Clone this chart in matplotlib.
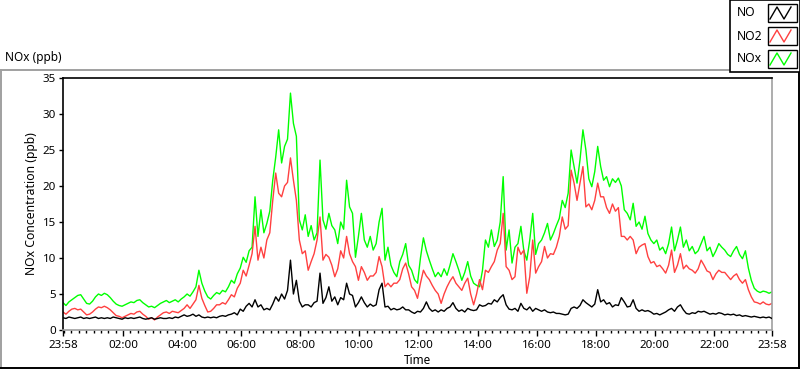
import numpy as np
import matplotlib
matplotlib.use("Agg")
import matplotlib.pyplot as plt
from matplotlib.lines import Line2D
from matplotlib.patches import Rectangle

plt.rcParams['font.family'] = ['Noto Sans', 'DejaVu Sans']

# sample step (minutes) from 23:58 to 23:58 next day
step_min = 6

no_vals = [
    1.7, 1.6, 1.8, 1.7, 1.6, 1.7, 1.8, 1.6, 1.7, 1.6,
    1.7, 1.8, 1.6, 1.7, 1.6, 1.7, 1.6, 1.8, 1.7, 1.6,
    1.5, 1.7, 1.6, 1.7, 1.6, 1.7, 1.8, 1.6, 1.5, 1.6,
    1.7, 1.5, 1.6, 1.7, 1.6, 1.6, 1.7, 1.6, 1.8, 1.7,
    1.9, 2.1, 1.9, 2.0, 2.2, 1.9, 2.1, 1.8, 1.7, 1.8,
    1.7, 1.8, 1.7, 1.9, 2.0, 1.9, 2.1, 2.2, 2.4, 2.1,
    2.9, 2.6, 3.3, 3.7, 3.2, 4.2, 3.2, 3.5, 2.8, 3.0,
    2.8, 3.6, 4.6, 4.0, 5.0, 4.3, 5.5, 9.7, 5.0, 6.9,
    4.0, 3.2, 3.5, 3.5, 3.2, 3.8, 4.0, 7.9, 3.7, 4.5,
    6.0, 4.0, 4.6, 3.5, 4.5, 4.2, 6.5, 5.0, 4.8, 3.2,
    3.8, 4.6, 3.8, 3.2, 3.6, 3.3, 3.5, 5.6, 6.5, 3.2,
    3.3, 2.8, 3.0, 2.8, 2.9, 3.2, 2.8, 2.8, 2.5, 2.3,
    2.6, 2.5, 3.0, 3.9, 3.0, 2.6, 2.8, 2.5, 2.8, 2.6,
    3.0, 3.2, 3.8, 3.0, 2.6, 2.8, 2.5, 3.0, 2.8, 2.7,
    2.8, 3.5, 3.3, 3.4, 3.7, 3.6, 4.2, 3.9, 4.5, 4.9,
    3.5, 2.9, 2.8, 3.0, 2.6, 3.7, 3.0, 2.8, 3.2, 2.6,
    3.0, 2.8, 2.6, 2.8, 2.5, 2.4, 2.5, 2.3, 2.3, 2.2,
    2.1, 2.2, 3.0, 3.2, 3.0, 3.4, 4.2, 3.8, 3.5, 3.2,
    3.6, 5.6, 3.9, 4.2, 3.6, 3.8, 3.2, 3.5, 3.4, 4.5,
    3.9, 3.2, 3.3, 4.2, 3.0, 2.6, 2.8, 2.6, 2.7, 2.5,
    2.2, 2.3, 2.1, 2.3, 2.5, 2.8, 3.0, 2.6, 3.2, 3.5,
    2.8, 2.3, 2.2, 2.4, 2.3, 2.6, 2.5, 2.6, 2.4, 2.2,
    2.3, 2.2, 2.4, 2.3, 2.1, 2.2, 2.1, 2.2, 2.0, 2.1,
    1.9, 2.0, 1.9, 1.8, 1.9, 1.8, 1.7, 1.8, 1.7, 1.8,
    1.6,
]

no2_vals = [
    2.5, 2.2, 2.6, 2.9, 3.0, 2.8, 2.9, 2.5, 2.1, 2.2,
    2.5, 2.9, 3.2, 3.1, 3.3, 3.1, 2.8, 2.4, 2.0, 1.9,
    1.7, 1.9, 2.1, 2.3, 2.2, 2.5, 2.6, 2.2, 1.9, 1.5,
    1.7, 1.4, 1.8, 2.1, 2.4, 2.5, 2.3, 2.6, 2.5, 2.4,
    2.7, 3.0, 3.5, 3.0, 3.6, 4.2, 6.2, 4.4, 3.4, 2.5,
    2.6, 3.0, 3.5, 3.5, 3.8, 3.6, 4.2, 4.9, 4.6, 5.8,
    6.5, 8.3, 7.5, 9.0, 10.6, 14.4, 9.7, 11.5, 10.0, 12.5,
    13.5, 18.0, 21.8, 19.0, 18.5, 20.0, 20.5, 23.9, 20.8, 18.0,
    12.5, 10.6, 11.0, 8.3, 9.5, 10.6, 12.5, 15.7, 9.7, 10.5,
    10.1, 9.0, 7.4, 8.5, 11.0, 10.0, 13.0, 10.6, 9.5, 8.8,
    6.9, 8.8, 8.0, 6.9, 7.5, 7.5, 8.0, 10.2, 8.8, 6.0,
    6.5, 6.0, 6.5, 6.5, 7.0, 8.5, 9.3, 7.8, 6.0, 5.5,
    4.4, 6.5, 8.3, 7.5, 7.0, 6.2, 5.5, 5.0, 3.7, 5.0,
    6.0, 6.8, 7.4, 6.5, 6.0, 5.5, 6.5, 7.2, 5.0, 3.5,
    5.0, 7.0, 5.6, 8.3, 8.0, 8.8, 9.5, 11.1, 12.0, 16.2,
    8.8, 8.3, 7.0, 7.4, 11.5, 10.5, 11.1, 5.1, 7.4, 12.5,
    7.9, 8.8, 9.5, 11.6, 10.0, 10.6, 10.5, 11.5, 13.0, 15.7,
    14.0, 14.5, 22.2, 20.4, 18.0, 20.4, 22.7, 17.1, 17.5, 16.7,
    18.0, 20.4, 18.5, 18.5, 17.0, 16.2, 17.5, 16.5, 17.0, 13.0,
    13.0, 12.5, 13.0, 12.5, 10.6, 11.5, 11.8, 12.0, 10.2, 9.3,
    9.5, 8.8, 9.0, 8.5, 7.9, 9.0, 11.1, 8.0, 9.0, 10.6,
    8.5, 9.0, 8.5, 8.3, 7.9, 8.5, 9.7, 9.0, 8.2, 8.0,
    7.0, 7.8, 8.3, 8.0, 8.0, 7.5, 7.0, 7.5, 7.8, 7.0,
    6.5, 7.0, 5.6, 4.6, 3.9, 3.8, 3.6, 3.9, 3.6, 3.5,
    3.7,
]

nox_vals = [
    3.8, 3.4, 3.9, 4.2, 4.5, 4.8, 4.9, 4.3, 3.7, 3.6,
    4.0, 4.6, 5.0, 4.8, 5.1, 4.9, 4.5, 4.0, 3.6, 3.4,
    3.3, 3.5, 3.7, 3.9, 3.8, 4.1, 4.2, 3.8, 3.5, 3.2,
    3.3, 3.1, 3.4, 3.7, 3.9, 4.1, 3.8, 4.0, 4.2, 3.9,
    4.3, 4.6, 5.0, 4.7, 5.3, 6.0, 8.3, 6.5, 5.4, 4.6,
    4.3, 4.8, 5.2, 5.0, 5.5, 5.3, 6.0, 6.9, 6.5, 7.8,
    8.6, 10.1, 9.4, 11.0, 11.5, 18.5, 13.0, 16.7, 13.5, 14.8,
    16.5, 20.8, 24.0, 27.8, 23.2, 25.5, 26.5, 32.9, 28.7, 26.9,
    15.3, 13.9, 16.0, 13.0, 14.5, 12.5, 13.5, 23.6, 15.3, 14.0,
    16.2, 14.5, 13.9, 12.0, 15.0, 14.0, 20.8, 17.1, 16.2, 10.1,
    13.0, 16.2, 12.5, 11.5, 13.0, 11.1, 12.0, 15.0, 16.9, 9.7,
    11.5, 9.0, 8.0, 7.4, 9.5, 10.5, 12.0, 9.0, 8.3, 7.0,
    6.5, 10.0, 12.8, 11.0, 9.7, 8.5, 7.4, 8.0, 7.4, 8.5,
    7.6, 9.0, 10.6, 9.5, 8.3, 6.9, 8.0, 9.5, 7.5, 6.5,
    6.2, 6.0, 8.3, 12.5, 11.5, 13.9, 11.6, 12.5, 15.0, 21.3,
    11.1, 13.9, 9.3, 11.5, 12.0, 14.4, 11.0, 9.7, 12.5, 16.2,
    10.5, 12.0, 12.5, 13.5, 14.8, 12.5, 13.4, 14.5, 15.5, 18.0,
    17.0, 19.0, 25.0, 22.7, 20.4, 23.6, 27.8, 25.0, 21.0, 19.9,
    22.0, 25.5, 22.7, 20.8, 21.3, 19.9, 21.0, 20.5, 21.1, 20.0,
    16.7, 16.2, 15.3, 17.6, 14.4, 15.0, 14.0, 15.8, 13.4, 12.5,
    12.0, 12.5, 11.1, 11.5, 10.6, 12.0, 14.3, 11.0, 12.5, 14.3,
    11.5, 12.5, 11.0, 11.6, 10.6, 11.0, 12.0, 13.0, 11.0, 11.5,
    10.2, 11.0, 12.0, 11.5, 11.1, 10.5, 10.2, 11.0, 11.6, 10.5,
    9.9, 11.0, 8.6, 6.9, 5.8, 5.4, 5.2, 5.4, 5.3, 5.1,
    5.3,
]

series_names = ["NO", "NO2", "NOx"]
series_colors = ["#000000", "#ff4040", "#00ff00"]

x_tick_labels = ["23:58", "02:00", "04:00", "06:00", "08:00", "10:00", "12:00",
                 "14:00", "16:00", "18:00", "20:00", "22:00", "23:58"]
y_ticks = [0, 5, 10, 15, 20, 25, 30, 35]

W, H = 800, 369
fig = plt.figure(figsize=(W / 100, H / 100), dpi=100)
fig.patch.set_facecolor("white")


def fx(x):
    return x / W


def fy(y):
    return 1 - y / H


ax = fig.add_axes([fx(63), fy(330), (772 - 63) / W, (330 - 78) / H])

t = np.arange(len(no_vals)) * step_min
ax.plot(t, no_vals, color=series_colors[0], lw=1.0, zorder=3)
ax.plot(t, no2_vals, color=series_colors[1], lw=1.0, zorder=2)
ax.plot(t, nox_vals, color=series_colors[2], lw=1.0, zorder=1)

total = 1440
ax.set_xlim(0, total)
ax.set_ylim(0, 35)

# major ticks: start, every 2 hours from 00:00 (offset 2 min), end
major_pos = [0] + [2 + 120 * k for k in range(1, 12)] + [total]
ax.set_xticks(major_pos)
ax.set_xticklabels(x_tick_labels)
minor_pos = [2 + 15 * k for k in range(0, 96)]
ax.set_xticks(minor_pos, minor=True)
ax.set_yticks(y_ticks)
ax.set_yticklabels([str(v) for v in y_ticks])

ax.tick_params(axis="x", which="major", direction="out", length=4, width=1,
               pad=3, labelsize=8.3, colors="black")
ax.tick_params(axis="x", which="minor", direction="out", length=2.2, width=1,
               colors="black")
ax.tick_params(axis="y", which="major", direction="out", length=3, width=1,
               pad=2, labelsize=8.3, colors="black")

for side in ["left", "top"]:
    ax.spines[side].set_color("black")
    ax.spines[side].set_linewidth(1.2)
for side in ["right", "bottom"]:
    ax.spines[side].set_color("#a0a0a0")
    ax.spines[side].set_linewidth(1.2)

fig.text(fx(32), fy(204), "NOx Concentration (ppb)", rotation=90,
         ha="center", va="center", fontsize=8.8)
fig.text(fx(417), fy(361), "Time", ha="center", va="center", fontsize=8.5)
fig.text(fx(5), fy(58), "NOx (ppb)", ha="left", va="center", fontsize=8.5)

# outer sunken frame
fig.add_artist(Line2D([fx(0.5), fx(730)], [fy(69.5), fy(69.5)], color="#a0a0a0", lw=1.4))
fig.add_artist(Line2D([fx(0.8), fx(0.8)], [fy(69.5), fy(367.5)], color="#a0a0a0", lw=1.4))
fig.add_artist(Line2D([fx(0), fx(798.5)], [fy(367.5), fy(367.5)], color="black", lw=1.4))
fig.add_artist(Line2D([fx(798.5), fx(798.5)], [fy(72), fy(367.5)], color="black", lw=1.4))

# legend box
fig.add_artist(Rectangle((fx(730), fy(72)), (799.5 - 730) / W, 72 / H,
                         transform=fig.transFigure, facecolor="white",
                         edgecolor="black", lw=1.2, zorder=5))
rows_y = [13, 36, 59]
for name, col, yc in zip(series_names, series_colors, rows_y):
    fig.text(fx(737), fy(yc), name, ha="left", va="center", fontsize=8.8, zorder=6)
    fig.add_artist(Rectangle((fx(767.5), fy(yc + 8.5)), 29 / W, 17 / H,
                             transform=fig.transFigure, facecolor="white",
                             edgecolor="black", lw=1.0, zorder=6))
    zx = [770, 777, 784, 791]
    zy = [yc + 6, yc - 6, yc + 6, yc - 6]
    fig.add_artist(Line2D([fx(v) for v in zx], [fy(v) for v in zy],
                          color=col, lw=1.0, zorder=7))

fig.savefig("out.png", dpi=100, facecolor="white")
